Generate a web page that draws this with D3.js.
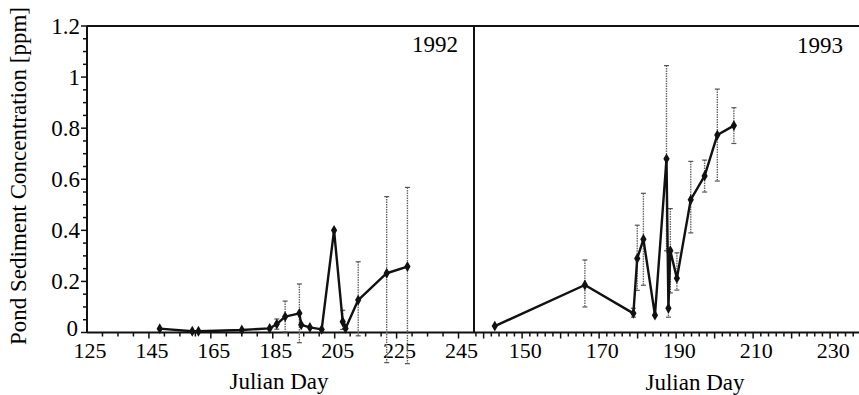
<!DOCTYPE html>
<html>
<head>
<meta charset="utf-8">
<script src="https://cdn.jsdelivr.net/npm/d3@7"></script>
<style>
  body { margin: 0; background: #fff; }
  svg { display: block; }
</style>
</head>
<body>
<svg id="chart" width="859" height="395"></svg>
<script>
// 1992 panel: Julian day, concentration (ppm), error bar up / down
const days92 = [148.5, 159, 161, 175, 184, 186.3, 189, 193.6, 194.2, 197, 200.8, 204.8, 207.6, 208.5, 212.6, 221.8, 228.5];
const conc92 = [0.015, 0.005, 0.005, 0.01, 0.016, 0.033, 0.062, 0.075, 0.03, 0.02, 0.012, 0.40, 0.042, 0.016, 0.127, 0.232, 0.258];
const errHi92 = [0, 0, 0, 0, 0, 0.02, 0.061, 0.115, 0, 0, 0, 0, 0.045, 0, 0.15, 0.30, 0.31];
const errLo92 = [0, 0, 0, 0, 0, 0.02, 0.06, 0.115, 0, 0, 0, 0, 0.03, 0, 0.14, 0.35, 0.38];

// 1993 panel
const days93 = [142.9, 166.3, 178.9, 179.9, 181.5, 184.5, 187.5, 188.0, 188.5, 190.2, 193.8, 197.4, 200.7, 205.0];
const conc93 = [0.025, 0.186, 0.075, 0.29, 0.365, 0.068, 0.68, 0.095, 0.32, 0.212, 0.52, 0.613, 0.773, 0.81];
const errHi93 = [0, 0.098, 0.02, 0.13, 0.18, 0, 0.365, 0.22, 0.165, 0.1, 0.15, 0.062, 0.18, 0.07];
const errLo93 = [0, 0.086, 0.015, 0.125, 0.18, 0, 0.36, 0.035, 0.165, 0.046, 0.13, 0.063, 0.18, 0.07];

const yTicks = [0, 0.2, 0.4, 0.6, 0.8, 1, 1.2];
const xLabels92 = [125, 145, 165, 185, 205, 225, 245];
const xLabels93 = [150, 170, 190, 210, 230];

const FONT = "'Liberation Serif', 'Times New Roman', serif";
const svg = d3.select('#chart');

const y = d3.scaleLinear().domain([0, 1.2]).range([332.5, 26]);
const x92 = d3.scaleLinear().domain([125, 250]).range([87, 474]);
const x93 = d3.scaleLinear().domain([137.5, 237.5]).range([474, 859]);

const y0 = y(0);

// frame: top line, left axis, divider, bottom axis
const frame = [
  [87, y(1.2), 859, y(1.2)],
  [87, y(1.2), 87, y0],
  [474, y(1.2), 474, y0],
  [87, y0, 859, y0]
];
svg.append('g').selectAll('line')
  .data(frame)
  .join('line')
  .attr('x1', d => d[0]).attr('y1', d => d[1])
  .attr('x2', d => d[2]).attr('y2', d => d[3])
  .attr('stroke', '#111').attr('stroke-width', 2);

// y ticks (minor every 0.05)
svg.append('g').selectAll('line')
  .data(d3.range(0, 1.2001, 0.05))
  .join('line')
  .attr('x1', d => Math.abs(d * 5 - Math.round(d * 5)) < 1e-6 ? 81 : 83)
  .attr('x2', 87)
  .attr('y1', d => y(d)).attr('y2', d => y(d))
  .attr('stroke', '#111').attr('stroke-width', 1.5);

svg.append('g').selectAll('text')
  .data(yTicks)
  .join('text')
  .attr('x', d => d === 0 ? 78 : 80)
  .attr('y', d => d === 0 ? y(d) + 3 : y(d) + 8)
  .attr('text-anchor', 'end')
  .attr('font-family', FONT)
  .attr('font-size', 23)
  .text(d => d3.format('~g')(d));

// x ticks
function xAxis(scale, minor, step, labels, start) {
  const g = svg.append('g');
  g.selectAll('line')
    .data(minor)
    .join('line')
    .attr('x1', d => scale(d)).attr('x2', d => scale(d))
    .attr('y1', y0)
    .attr('y2', d => ((d - start) % step === 0) ? y0 + 6 : y0 + 4)
    .attr('stroke', '#111').attr('stroke-width', 1.5);
  g.selectAll('text')
    .data(labels)
    .join('text')
    .attr('x', d => scale(d) + 3)
    .attr('y', y0 + 25)
    .attr('text-anchor', 'middle')
    .attr('font-family', FONT)
    .attr('font-size', 22)
    .text(d => d);
}
xAxis(x92, d3.range(130, 250, 5), 20, xLabels92, 125);
xAxis(x93, d3.range(138, 238, 2), 10, xLabels93, 150);

// axis titles
svg.append('text')
  .attr('transform', 'translate(26, 176) rotate(-90)')
  .attr('text-anchor', 'middle')
  .attr('font-family', FONT)
  .attr('font-size', 23)
  .text('Pond Sediment Concentration [ppm]');

svg.append('text').attr('x', 279).attr('y', 389)
  .attr('text-anchor', 'middle').attr('font-family', FONT).attr('font-size', 23)
  .text('Julian Day');
svg.append('text').attr('x', 695).attr('y', 390)
  .attr('text-anchor', 'middle').attr('font-family', FONT).attr('font-size', 23)
  .text('Julian Day');

svg.append('text').attr('x', 458).attr('y', 52)
  .attr('text-anchor', 'end').attr('font-family', FONT).attr('font-size', 23)
  .text('1992');
svg.append('text').attr('x', 843).attr('y', 53)
  .attr('text-anchor', 'end').attr('font-family', FONT).attr('font-size', 23)
  .text('1993');

// series
function drawSeries(scale, days, conc, hi, lo) {
  const pts = days.map((d, i) => ({ day: d, v: conc[i], hi: hi[i], lo: lo[i] }));
  const g = svg.append('g');

  const bars = pts.filter(p => p.hi > 0 || p.lo > 0);
  g.selectAll('.err')
    .data(bars)
    .join('line')
    .attr('class', 'err')
    .attr('x1', p => scale(p.day)).attr('x2', p => scale(p.day))
    .attr('y1', p => y(p.v + p.hi)).attr('y2', p => y(p.v - p.lo))
    .attr('stroke', '#666').attr('stroke-width', 1.4)
    .attr('stroke-dasharray', '1.5,1');
  g.selectAll('.cap')
    .data(bars.flatMap(p => [p.v + p.hi, p.v - p.lo].map(v => ({ day: p.day, v }))))
    .join('line')
    .attr('class', 'cap')
    .attr('x1', p => scale(p.day) - 2.5).attr('x2', p => scale(p.day) + 2.5)
    .attr('y1', p => y(p.v)).attr('y2', p => y(p.v))
    .attr('stroke', '#555').attr('stroke-width', 1.2);

  const line = d3.line().x(p => scale(p.day)).y(p => y(p.v));
  g.append('path')
    .datum(pts)
    .attr('d', line)
    .attr('fill', 'none')
    .attr('stroke', '#111')
    .attr('stroke-width', 2.4)
    .attr('stroke-linejoin', 'round');

  g.selectAll('.pt')
    .data(pts)
    .join('path')
    .attr('class', 'pt')
    .attr('transform', p => `translate(${scale(p.day)},${y(p.v)})`)
    .attr('d', d3.symbol(d3.symbolDiamond, 34))
    .attr('fill', '#111');
}
drawSeries(x92, days92, conc92, errHi92, errLo92);
drawSeries(x93, days93, conc93, errHi93, errLo93);
</script>
</body>
</html>
